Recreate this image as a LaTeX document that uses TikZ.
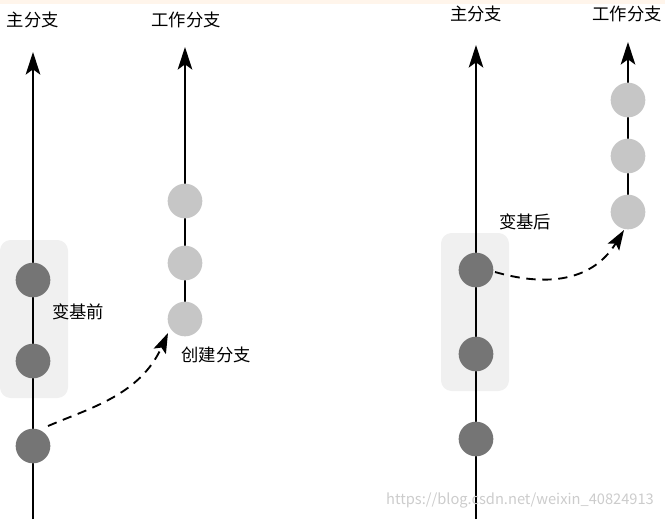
\documentclass[tikz,border=0pt]{standalone}
\usepackage{fontspec}
\setmainfont{Noto Sans CJK SC}
\usetikzlibrary{arrows.meta}
\begin{document}
\begin{tikzpicture}[x=0.75pt,y=-0.75pt,
  dk/.style={circle,fill=gray!80!black!90,minimum size=26pt,inner sep=0},
  lt/.style={circle,fill=gray!45,minimum size=26pt,inner sep=0},
  grp/.style={fill=gray!12,rounded corners=8pt},
  ln/.style={line width=1pt,-{Stealth[length=17pt,width=11pt,inset=4pt]}},
  dsh/.style={line width=1.4pt,dashed,dash pattern=on 7pt off 5pt,-{Stealth[length=15pt,width=10pt,inset=3pt]}},
  lbl/.style={font=\fontsize{13}{15}\selectfont}]
\useasboundingbox (0,0) rectangle (665,519);
\fill[orange!8] (0,0) rectangle (665,4);
\fill[grp] (0,240) rectangle (68,398);
\fill[grp] (441,233) rectangle (509,391);
% left
\coordinate (lb) at (33,519); \coordinate (lt) at (33,52);
\draw[ln] (lb) -- (lt);
\node[dk] (a1) at (33,280) {}; \node[dk] (a2) at (33,361) {}; \node[dk] (a3) at (33,446) {};
\coordinate (wb) at (185,315); \coordinate (wt) at (185,47);
\draw[ln] (wb) -- (wt);
\node[lt] (b1) at (185,201) {}; \node[lt] (b2) at (185,263) {}; \node[lt] (b3) at (185,319) {};
\coordinate (s1) at (48,426);
\draw[dsh] (s1) .. controls (90,408) and (140,395) .. (168,333);
\node[lbl] (t1) at (33,20) {主分支};
\node[lbl] (t2) at (186,20) {工作分支};
\node[lbl] (t3) at (78,312) {变基前};
\node[lbl] (t4) at (216,355) {创建分支};
% right
\coordinate (rb) at (476,519); \coordinate (rt) at (476,45);
\draw[ln] (rb) -- (rt);
\node[dk] (c1) at (476,270) {}; \node[dk] (c2) at (476,354) {}; \node[dk] (c3) at (476,439) {};
\coordinate (vb) at (628,212); \coordinate (vt) at (628,42);
\draw[ln] (vb) -- (vt);
\node[lt] (d1) at (628,100) {}; \node[lt] (d2) at (628,156) {}; \node[lt] (d3) at (628,212) {};
\coordinate (s2) at (495,272);
\draw[dsh] (s2) .. controls (540,285) and (590,285) .. (624,230);
\node[lbl] (t5) at (476,14) {主分支};
\node[lbl] (t6) at (627,14) {工作分支};
\node[lbl] (t7) at (525,222) {变基后};
\node[font=\fontsize{11}{13}\selectfont,text=gray!40] (wm) at (520,500) {https://blog.csdn.net/weixin\_40824913};
\end{tikzpicture}
\end{document}
